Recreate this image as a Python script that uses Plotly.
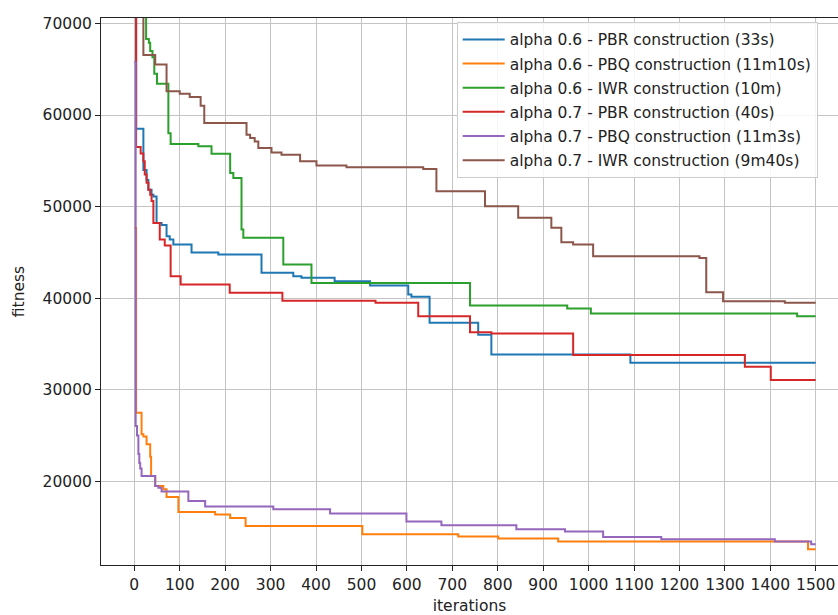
import plotly.graph_objects as go

# ---- data (step points: iteration where a new best fitness starts) ----
labels = [
    "alpha 0.6 - PBR construction (33s)",
    "alpha 0.6 - PBQ construction (11m10s)",
    "alpha 0.6 - IWR construction (10m)",
    "alpha 0.7 - PBR construction (40s)",
    "alpha 0.7 - PBQ construction (11m3s)",
    "alpha 0.7 - IWR construction (9m40s)",
]
colors = ["#1f77b4", "#ff7f0e", "#2ca02c", "#d62728", "#9467bd", "#8c564b"]

pbr06_iter = [0, 4, 20, 27, 31, 38, 42, 49, 60, 71, 78, 86, 126, 185, 280, 350, 368, 441, 519, 603, 610, 650, 757, 786, 1092, 1500]
pbr06_fit = [85000, 58500, 54000, 52900, 51850, 51300, 51100, 48220, 48000, 46760, 46400, 45860, 45000, 44770, 42770, 42400, 42225, 41850, 41385, 40400, 40150, 37320, 36000, 33860, 32950, 32950]

pbq06_iter = [0, 4, 16, 20, 27, 35, 37, 46, 64, 71, 97, 178, 211, 245, 502, 713, 801, 933, 1483, 1500]
pbq06_fit = [47670, 27500, 25140, 24900, 24050, 22700, 20590, 19500, 19130, 18300, 16660, 16380, 16010, 15140, 14230, 13980, 13760, 13430, 12600, 12600]

iwr06_iter = [0, 26, 32, 35, 40, 44, 50, 75, 80, 141, 170, 211, 218, 236, 240, 328, 390, 739, 953, 1005, 1459, 1500]
iwr06_fit = [90000, 68300, 67900, 67000, 66300, 64500, 63400, 58000, 56840, 56580, 55780, 53670, 53130, 47500, 46590, 43675, 41670, 39200, 38880, 38330, 38040, 38040]

pbr07_iter = [0, 4, 14, 20, 23, 27, 31, 35, 38, 42, 56, 67, 80, 102, 210, 326, 531, 625, 739, 786, 966, 1344, 1401, 1500]
pbr07_fit = [85000, 56500, 55800, 54940, 53500, 52600, 51850, 51300, 50600, 48220, 46400, 45740, 42400, 41490, 40600, 39720, 39500, 38040, 36290, 36150, 33800, 32520, 31060, 31060]

pbq07_iter = [0, 3, 6, 9, 11, 13, 16, 46, 53, 60, 119, 156, 306, 431, 599, 676, 841, 948, 1032, 1160, 1410, 1490, 1500]
pbq07_fit = [65800, 26040, 25000, 23000, 22000, 21400, 20590, 19500, 19320, 18890, 17860, 17250, 16960, 16490, 15615, 15210, 14780, 14520, 13940, 13690, 13430, 13140, 13140]

iwr07_iter = [0, 20, 46, 71, 100, 122, 146, 154, 247, 255, 265, 273, 302, 324, 365, 401, 467, 636, 665, 772, 845, 918, 940, 966, 1010, 1244, 1259, 1296, 1432, 1500]
iwr07_fit = [90000, 66550, 65500, 62600, 62320, 61960, 61000, 59130, 57850, 57490, 57120, 56400, 55920, 55670, 54940, 54500, 54290, 54110, 51670, 50030, 48770, 47680, 46107, 45855, 44580, 44400, 40655, 39673, 39500, 39500]

x_ticks = list(range(0, 1501, 100))
y_ticks = [20000, 30000, 40000, 50000, 60000, 70000]
y_tick_text = [str(v) for v in y_ticks]

series = [
    (pbr06_iter, pbr06_fit),
    (pbq06_iter, pbq06_fit),
    (iwr06_iter, iwr06_fit),
    (pbr07_iter, pbr07_fit),
    (pbq07_iter, pbq07_fit),
    (iwr07_iter, iwr07_fit),
]

FONT = "DejaVu Sans"
fig = go.Figure()
for k, ((xs, ys), name, col) in enumerate(zip(series, labels, colors)):
    fig.add_trace(go.Scatter(
        x=xs, y=ys, mode="lines", name=name,
        line=dict(color=col, width=2, shape="hv"),
        legendgroup=f"g{k}",
    ))

axis_common = dict(
    showgrid=True, gridcolor="#c4c4c4", gridwidth=1,
    zeroline=False, showline=True, linecolor="#222", linewidth=1,
    ticks="outside", ticklen=5, tickcolor="#222",
    tickfont=dict(family=FONT, size=15.5, color="#222"),
)

fig.update_layout(
    width=838, height=615,
    margin=dict(l=101, r=0, t=18, b=50),
    paper_bgcolor="white", plot_bgcolor="white",
    font=dict(family=FONT, size=15.5, color="#222"),
    xaxis=dict(range=[-73.3, 1549], tickvals=x_ticks, mirror=True,
               title=dict(text="iterations", font=dict(family=FONT, size=15.5, color="#222"), standoff=7),
               **axis_common),
    yaxis=dict(range=[10873, 70590], tickvals=y_ticks, ticktext=y_tick_text,
               title=dict(text="fitness", font=dict(family=FONT, size=15.5, color="#222"), standoff=14),
               **axis_common),
    legend=dict(x=0.4826, y=0.993, xanchor="left", yanchor="top",
                bgcolor="rgba(255,255,255,0.85)", bordercolor="#cccccc", borderwidth=1,
                font=dict(family=FONT, size=15.5, color="#222"),
                itemwidth=42,
                tracegroupgap=1, traceorder="grouped"),
    showlegend=True,
)

fig.write_html("out.html")
